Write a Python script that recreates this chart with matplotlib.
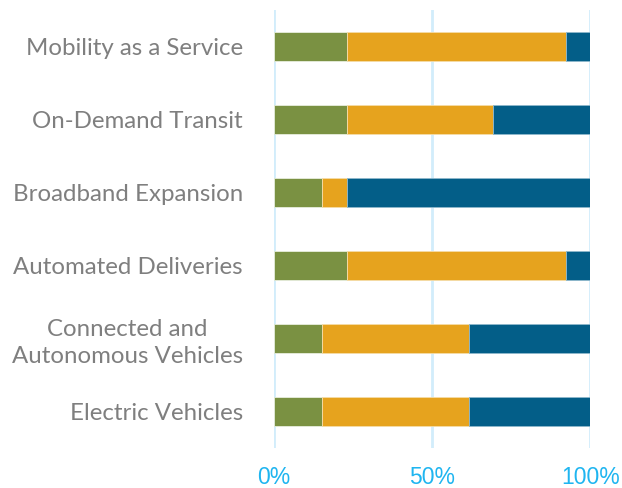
import matplotlib
matplotlib.use("Agg")
import matplotlib.pyplot as plt
import numpy as np

categories = ["Mobility as a Service", "On-Demand Transit", "Broadband Expansion",
              "Automated Deliveries", "Connected and\nAutonomous Vehicles", "Electric Vehicles"]
# counts per category (share of 13 responses)
green_vals = [3, 3, 2, 3, 2, 2]
orange_vals = [9, 6, 1, 9, 6, 6]
blue_vals = [1, 4, 10, 1, 5, 5]
xticks = [0, 0.5, 1.0]
xtick_labels = ["0%", "50%", "100%"]

green = np.array(green_vals, dtype=float)
orange = np.array(orange_vals, dtype=float)
blue = np.array(blue_vals, dtype=float)
total = green + orange + blue
g, o, b = green / total, orange / total, blue / total

fig = plt.figure(figsize=(6.22, 4.88), dpi=100)
ax = fig.add_axes([0.44, 0.082, 0.509, 0.8975])

y = np.arange(len(categories))
h = 0.4
ax.barh(y, g, height=h, color="#7a9142", edgecolor="#e8eedd", linewidth=0.6, zorder=3)
ax.barh(y, o, left=g, height=h, color="#e6a31e", edgecolor="#f5dca8", linewidth=0.6, zorder=3)
ax.barh(y, b, left=g + o, height=h, color="#035e88", edgecolor="#8fb8cc", linewidth=0.6, zorder=3)

ax.set_ylim(len(categories) - 0.5, -0.5)
ax.set_xlim(0, 1.0)
ax.set_yticks(y)
ax.set_yticklabels(categories, fontsize=17.3, color="#7f7f7f", family="Lato")
for lbl in ax.get_yticklabels():
    lbl.set_multialignment("center")
    lbl.set_linespacing(1.3)
ax.set_xticks(xticks)
ax.set_xticklabels(xtick_labels, fontsize=16.5, color="#1fb5f0", family="Liberation Sans")
ax.tick_params(axis="both", length=0)
ax.tick_params(axis="y", pad=22)
ax.tick_params(axis="x", pad=13)

for s in ax.spines.values():
    s.set_visible(False)
ax.grid(axis="x", color="#d2edfb", linewidth=2, zorder=0)
ax.set_axisbelow(True)

fig.savefig("out.png", dpi=100)
